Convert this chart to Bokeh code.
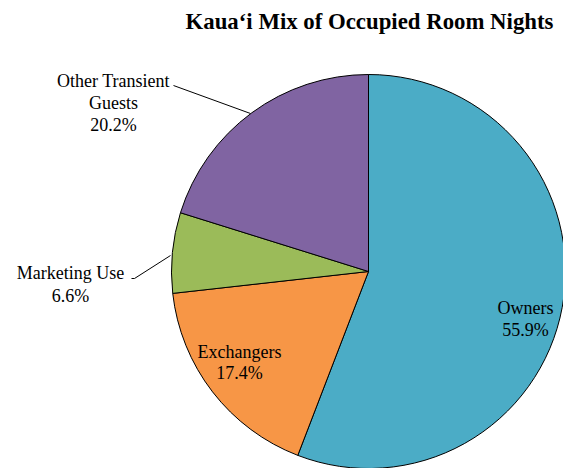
import math
from bokeh.plotting import figure
from bokeh.models import Range1d, ColumnDataSource
from bokeh.core.properties import value
from bokeh.embed import file_html
from bokeh.resources import INLINE

# ---- data ----
categories = ["Owners", "Exchangers", "Marketing Use", "Other Transient Guests"]
shares = [55.9, 17.4, 6.6, 20.2]
colors = ["#4BACC6", "#F79646", "#9BBB59", "#8064A2"]
title_text = "Kaua\u2018i Mix of Occupied Room Nights"

W, H = 563, 468
FONT = "Liberation Serif"

p = figure(width=W, height=H, x_range=Range1d(0, W), y_range=Range1d(0, H),
           output_backend="svg", toolbar_location=None, min_border=0)
p.axis.visible = False
p.grid.visible = False
p.outline_line_color = None
p.background_fill_color = "white"
p.border_fill_color = "white"

def Y(y):
    return H - y

cx, cy, r = 368, Y(271), 197
total = sum(shares)
starts, ends = [], []
a = math.pi / 2
for s in shares:
    starts.append(a)
    a -= s / total * 2 * math.pi
    ends.append(a)

src = ColumnDataSource(dict(start=starts, end=ends, color=colors, cat=categories))
p.wedge(x=cx, y=cy, radius=r, start_angle="start", end_angle="end", direction="clock",
        fill_color="color", line_color="black", line_width=1, source=src)

def lab(i):
    return f"{shares[i]:.1f}%"

def txt(x, y, t, size="18px", style="normal", baseline="middle"):
    p.text(x=[x], y=[Y(y)], text=[t], text_font=value(FONT), text_font_size=size,
           text_font_style=style, text_align="center", text_baseline=baseline,
           text_color="black", text_line_height=1.2)

txt(525, 307, "Owners")
txt(525, 329, lab(0))
txt(239, 351, "Exchangers")
txt(239, 372, lab(1))
txt(70, 272, "Marketing Use")
txt(70, 295, lab(2))
txt(113, 80, "Other Transient")
txt(113, 102, "Guests")
txt(113, 124, lab(3))

# leader lines
p.line(x=[173, 250], y=[Y(85), Y(113)], line_color="black", line_width=1)
p.line(x=[131, 134, 170], y=[Y(278), Y(278), Y(255)], line_color="black", line_width=1)

# title
txt(369, 21, title_text, size="22.8px", style="bold")

open("out.html", "w").write(file_html(p, INLINE))
